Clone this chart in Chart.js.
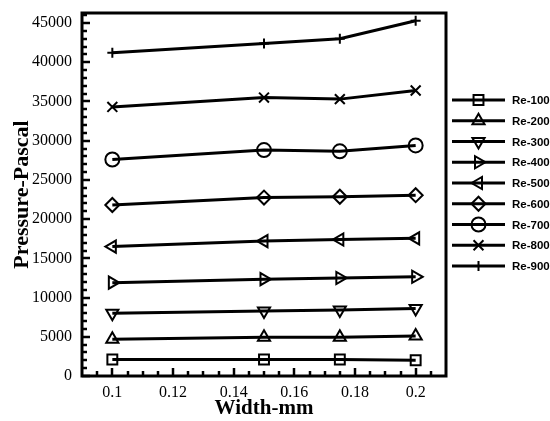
<!DOCTYPE html>
<html>
<head>
<meta charset="utf-8">
<script src="https://cdn.jsdelivr.net/npm/chart.js@4/dist/chart.umd.min.js"></script>
<style>
  html, body { margin: 0; padding: 0; background: #fff; }
  #wrap { width: 550px; height: 421px; }
</style>
</head>
<body>
<div id="wrap"><canvas id="c" width="550" height="421"></canvas></div>
<script>
// ---- data ----
const widths = [0.1, 0.15, 0.175, 0.2];
const seriesNames = ["Re-100", "Re-200", "Re-300", "Re-400", "Re-500", "Re-600", "Re-700", "Re-800", "Re-900"];
const re100 = [2100, 2100, 2100, 2000];
const re200 = [4700, 4950, 4950, 5100];
const re300 = [8000, 8300, 8400, 8600];
const re400 = [11900, 12350, 12500, 12650];
const re500 = [16500, 17200, 17400, 17550];
const re600 = [21800, 22750, 22850, 23050];
const re700 = [27600, 28800, 28650, 29400];
const re800 = [34300, 35500, 35300, 36400];
const re900 = [41200, 42400, 43000, 45300];
const yTickValues = [0, 5000, 10000, 15000, 20000, 25000, 30000, 35000, 40000, 45000];
const xTickValues = [0.1, 0.12, 0.14, 0.16, 0.18, 0.2];
const xTickLabels = ["0.1", "0.12", "0.14", "0.16", "0.18", "0.2"];

// ---- styles ----
const allValues = [re100, re200, re300, re400, re500, re600, re700, re800, re900];
const markerStyles = [
  { pointStyle: 'rect', rotation: 0, radius: 7 },
  { pointStyle: 'triangle', rotation: 0, radius: 7 },
  { pointStyle: 'triangle', rotation: 180, radius: 7 },
  { pointStyle: 'triangle', rotation: 90, radius: 7 },
  { pointStyle: 'triangle', rotation: 270, radius: 7 },
  { pointStyle: 'rectRot', rotation: 0, radius: 7 },
  { pointStyle: 'circle', rotation: 0, radius: 7 },
  { pointStyle: 'crossRot', rotation: 0, radius: 7 },
  { pointStyle: 'cross', rotation: 0, radius: 5 }
];

const datasets = allValues.map((vals, i) => ({
  label: seriesNames[i],
  data: widths.map((w, j) => ({ x: w, y: vals[j] })),
  borderColor: '#000',
  backgroundColor: 'rgba(0,0,0,0)',
  borderWidth: 3,
  pointStyle: markerStyles[i].pointStyle,
  pointRotation: markerStyles[i].rotation,
  pointRadius: markerStyles[i].radius,
  pointBorderWidth: 2,
  pointBorderColor: '#000',
  pointBackgroundColor: 'rgba(0,0,0,0)',
  tension: 0,
  fill: false
}));

const serif = "'Liberation Serif', 'Times New Roman', serif";
const sans = "'Liberation Sans', Arial, sans-serif";

// frame, inside ticks and line legend
const framePlugin = {
  id: 'frame',
  afterDraw(chart) {
    const { ctx, chartArea: a, scales } = chart;
    const xs = scales.x, ys = scales.y;
    ctx.save();
    ctx.strokeStyle = '#000';
    ctx.lineCap = 'butt';
    // y ticks (inside, left)
    ctx.lineWidth = 2.5;
    for (let v = 0; v <= ys.max; v += 1000) {
      const p = Math.round(ys.getPixelForValue(v));
      if (p < a.top + 2) continue;
      const len = (v % 5000 === 0) ? 8 : 5;
      ctx.beginPath();
      ctx.moveTo(a.left, p);
      ctx.lineTo(a.left + len, p);
      ctx.stroke();
    }
    // x ticks (inside, bottom)
    for (let k = 0; ; k++) {
      const v = 0.095 + k * 0.005;
      if (v > xs.max) break;
      const p = Math.round(xs.getPixelForValue(v));
      const major = Math.abs((v / 0.02) - Math.round(v / 0.02)) < 1e-6;
      const len = major ? 8 : 5;
      ctx.beginPath();
      ctx.moveTo(p, a.bottom);
      ctx.lineTo(p, a.bottom - len);
      ctx.stroke();
    }
    // frame
    ctx.lineWidth = 3;
    ctx.strokeRect(a.left, a.top, a.right - a.left, a.bottom - a.top);

    // legend with line + marker
    const lx0 = a.right + 6, lx1 = a.right + 59, tx = a.right + 66;
    chart.data.datasets.forEach((ds, i) => {
      const y = 100 + i * 20.75;
      ctx.strokeStyle = '#000';
      ctx.lineWidth = 3;
      ctx.beginPath();
      ctx.moveTo(lx0, y);
      ctx.lineTo(lx1, y);
      ctx.stroke();
      ctx.lineWidth = 2;
      ctx.fillStyle = 'rgba(0,0,0,0)';
      Chart.helpers.drawPoint(ctx, {
        pointStyle: ds.pointStyle,
        rotation: ds.pointRotation,
        radius: ds.pointRadius,
        borderWidth: 2
      }, (lx0 + lx1) / 2, y);
      ctx.fillStyle = '#000';
      ctx.font = "bold 11.5px " + sans;
      ctx.textAlign = 'left';
      ctx.textBaseline = 'middle';
      ctx.fillText(ds.label, tx, y + 1);
    });
    ctx.restore();
  }
};

new Chart(document.getElementById('c'), {
  type: 'line',
  data: { datasets },
  plugins: [framePlugin],
  options: {
    responsive: false,
    animation: false,
    devicePixelRatio: 1,
    layout: { padding: { left: 0, right: 104, top: 13, bottom: 0 } },
    plugins: { legend: { display: false }, tooltip: { enabled: false } },
    scales: {
      x: {
        type: 'linear',
        min: 0.09,
        max: 0.21,
        afterBuildTicks(scale) { scale.ticks = xTickValues.map(v => ({ value: v })); },
        afterFit(scale) { scale.height = 45; scale.paddingLeft = 0; scale.paddingRight = 0; },
        grid: { display: false, drawTicks: false },
        border: { display: false },
        ticks: {
          color: '#000',
          padding: 7,
          maxRotation: 0,
          autoSkip: false,
          font: { family: serif, size: 16 },
          callback: (v) => { const i = xTickValues.findIndex(t => Math.abs(t - v) < 1e-9); return i >= 0 ? xTickLabels[i] : ''; }
        },
        title: {
          display: true,
          text: 'Width-mm',
          color: '#000',
          padding: { top: 0, bottom: 0 },
          font: { family: serif, size: 21, weight: 'bold' }
        }
      },
      y: {
        type: 'linear',
        min: 0,
        max: 46280,
        afterBuildTicks(scale) { scale.ticks = yTickValues.map(v => ({ value: v })); },
        afterFit(scale) { scale.width = 82; scale.paddingTop = 0; scale.paddingBottom = 0; },
        grid: { display: false, drawTicks: false },
        border: { display: false },
        ticks: {
          color: '#000',
          padding: 10,
          autoSkip: false,
          font: { family: serif, size: 16 },
          callback: (v) => String(v)
        },
        title: {
          display: true,
          text: 'Pressure-Pascal',
          color: '#000',
          padding: { top: 9, bottom: 0 },
          font: { family: serif, size: 22, weight: 'bold' }
        }
      }
    }
  }
});
</script>
</body>
</html>
